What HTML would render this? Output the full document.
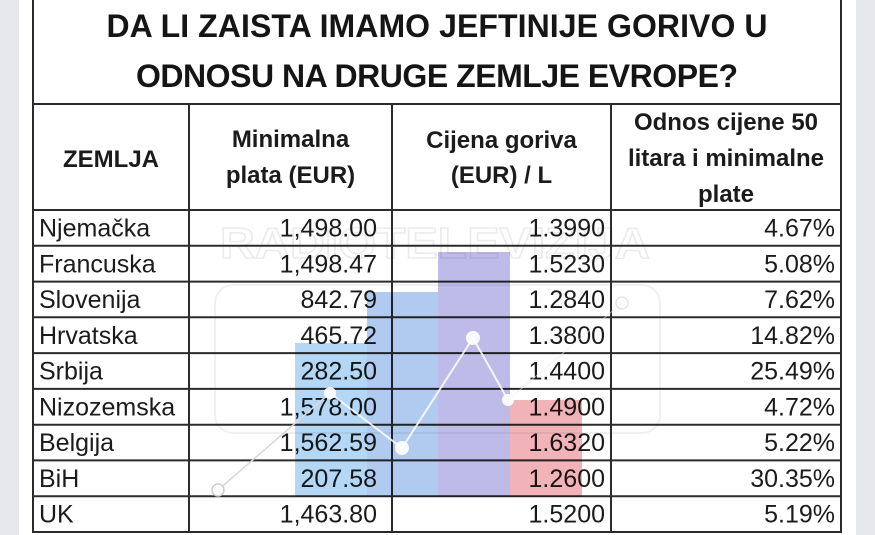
<!DOCTYPE html>
<html>
<head>
<meta charset="utf-8">
<style>
  html,body{margin:0;padding:0;background:#fff;}
  svg{display:block;}
  text{font-family:"Liberation Sans", Arial, sans-serif;fill:#1b1b1b;}
  .t{font-size:32px;font-weight:bold;fill:#151515;}
  .h{font-size:24px;font-weight:bold;}
  .d{font-size:25px;}
</style>
</head>
<body>
<svg width="875" height="535" viewBox="0 0 875 535" xmlns="http://www.w3.org/2000/svg">
  <rect x="0" y="0" width="875" height="535" fill="#ffffff"/>
  <rect x="0" y="0" width="19" height="535" fill="#e7e8ec"/>
  <rect x="856" y="0" width="19" height="535" fill="#e7e8ec"/>

  <!-- faint watermark -->
  <text x="435" y="258" text-anchor="middle" textLength="430" lengthAdjust="spacingAndGlyphs" style="font-size:44px;font-weight:bold;fill:none;stroke:#ebebeb;stroke-width:1.5">RADIOTELEVIZIJA</text>
  <rect x="215" y="285" width="445" height="148" rx="18" fill="none" stroke="#f0f0f0" stroke-width="2"/>

  <!-- title -->
  <text class="t" x="437" y="37" text-anchor="middle" textLength="661" lengthAdjust="spacing">DA LI ZAISTA IMAMO JEFTINIJE GORIVO U</text>
  <text class="t" x="437" y="87" text-anchor="middle" textLength="602" lengthAdjust="spacing">ODNOSU NA DRUGE ZEMLJE EVROPE?</text>

  <!-- header -->
  <text class="h" x="111" y="167" text-anchor="middle">ZEMLJA</text>
  <text class="h" x="290.5" y="147" text-anchor="middle">Minimalna</text>
  <text class="h" x="290.5" y="183" text-anchor="middle">plata (EUR)</text>
  <text class="h" x="501.5" y="148" text-anchor="middle">Cijena goriva</text>
  <text class="h" x="501.5" y="183" text-anchor="middle">(EUR) / L</text>
  <text class="h" x="726" y="130" text-anchor="middle">Odnos cijene 50</text>
  <text class="h" x="726" y="166" text-anchor="middle">litara i minimalne</text>
  <text class="h" x="726" y="202" text-anchor="middle">plate</text>

  <!-- data rows -->
  <g class="d">
    <text class="d" x="39" y="236.5">Njemačka</text>
    <text class="d" x="377" y="236.5" text-anchor="end">1,498.00</text>
    <text class="d" x="605" y="236.5" text-anchor="end">1.3990</text>
    <text class="d" x="835" y="236.5" text-anchor="end">4.67%</text>

    <text class="d" x="39" y="272.3">Francuska</text>
    <text class="d" x="377" y="272.3" text-anchor="end">1,498.47</text>
    <text class="d" x="605" y="272.3" text-anchor="end">1.5230</text>
    <text class="d" x="835" y="272.3" text-anchor="end">5.08%</text>

    <text class="d" x="39" y="308.1">Slovenija</text>
    <text class="d" x="377" y="308.1" text-anchor="end">842.79</text>
    <text class="d" x="605" y="308.1" text-anchor="end">1.2840</text>
    <text class="d" x="835" y="308.1" text-anchor="end">7.62%</text>

    <text class="d" x="39" y="343.8">Hrvatska</text>
    <text class="d" x="377" y="343.8" text-anchor="end">465.72</text>
    <text class="d" x="605" y="343.8" text-anchor="end">1.3800</text>
    <text class="d" x="835" y="343.8" text-anchor="end">14.82%</text>

    <text class="d" x="39" y="379.6">Srbija</text>
    <text class="d" x="377" y="379.6" text-anchor="end">282.50</text>
    <text class="d" x="605" y="379.6" text-anchor="end">1.4400</text>
    <text class="d" x="835" y="379.6" text-anchor="end">25.49%</text>

    <text class="d" x="39" y="415.4">Nizozemska</text>
    <text class="d" x="377" y="415.4" text-anchor="end">1,578.00</text>
    <text class="d" x="605" y="415.4" text-anchor="end">1.4900</text>
    <text class="d" x="835" y="415.4" text-anchor="end">4.72%</text>

    <text class="d" x="39" y="451.2">Belgija</text>
    <text class="d" x="377" y="451.2" text-anchor="end">1,562.59</text>
    <text class="d" x="605" y="451.2" text-anchor="end">1.6320</text>
    <text class="d" x="835" y="451.2" text-anchor="end">5.22%</text>

    <text class="d" x="39" y="486.9">BiH</text>
    <text class="d" x="377" y="486.9" text-anchor="end">207.58</text>
    <text class="d" x="605" y="486.9" text-anchor="end">1.2600</text>
    <text class="d" x="835" y="486.9" text-anchor="end">30.35%</text>

    <text class="d" x="39" y="522.7">UK</text>
    <text class="d" x="377" y="522.7" text-anchor="end">1,463.80</text>
    <text class="d" x="605" y="522.7" text-anchor="end">1.5200</text>
    <text class="d" x="835" y="522.7" text-anchor="end">5.19%</text>
  </g>

  <!-- grid lines -->
  <g stroke="#2b2b2b" stroke-width="2" fill="none">
    <line x1="33" y1="0" x2="33" y2="533"/>
    <line x1="841" y1="0" x2="841" y2="533"/>
    <line x1="189" y1="104" x2="189" y2="533"/>
    <line x1="392" y1="104" x2="392" y2="533"/>
    <line x1="611" y1="104" x2="611" y2="533"/>
    <line x1="33" y1="104" x2="841" y2="104"/>
    <line x1="33" y1="210" x2="841" y2="210"/>
    <line x1="33" y1="245.8" x2="841" y2="245.8"/>
    <line x1="33" y1="281.6" x2="841" y2="281.6"/>
    <line x1="33" y1="317.3" x2="841" y2="317.3"/>
    <line x1="33" y1="353.1" x2="841" y2="353.1"/>
    <line x1="33" y1="388.9" x2="841" y2="388.9"/>
    <line x1="33" y1="424.7" x2="841" y2="424.7"/>
    <line x1="33" y1="460.4" x2="841" y2="460.4"/>
    <line x1="33" y1="496.2" x2="841" y2="496.2"/>
    <line x1="32" y1="532" x2="842" y2="532"/>
  </g>

  <!-- watermark bars -->
  <g style="mix-blend-mode:multiply" opacity="0.85">
    <rect x="295" y="343" width="72" height="154" fill="#a6d0f2"/>
    <rect x="367" y="292" width="71" height="205" fill="#a3c1ec"/>
    <rect x="438" y="252" width="72" height="245" fill="#b3afe6"/>
    <rect x="510" y="400" width="72" height="97" fill="#efa6ab"/>
  </g>

  <!-- watermark line -->
  <g fill="none">
    <polyline points="218,490 330,393" stroke="#ddd5db" stroke-width="1.5"/>
    <polyline points="330,393 402,448 473,338 508,400" stroke="#ffffff" stroke-width="2" opacity="0.85"/>
    <polyline points="508,400 622,303" stroke="#ececec" stroke-width="1" opacity="0.6"/>
    <circle cx="218" cy="490" r="6" stroke="#d6c8d0" stroke-width="1.5" fill="#ffffff"/>
    <circle cx="622" cy="303" r="6" stroke="#e4e4e4" stroke-width="1.5" fill="none"/>
  </g>
  <g fill="#ffffff" opacity="0.9">
    <circle cx="330" cy="393" r="6"/>
    <circle cx="402" cy="448" r="7"/>
    <circle cx="473" cy="338" r="7"/>
    <circle cx="508" cy="400" r="6"/>
  </g>
</svg>
</body>
</html>
